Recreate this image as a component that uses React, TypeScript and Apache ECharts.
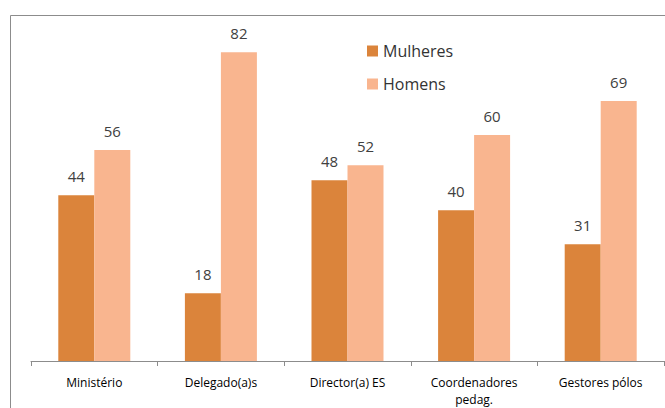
import React, { useEffect, useRef } from "react";
import * as echarts from "echarts";

const categories = ["Ministério", "Delegado(a)s", "Director(a) ES", "Coordenadores\npedag.", "Gestores pólos"];
const mulheres = [44, 18, 48, 40, 31];
const homens = [56, 82, 52, 60, 69];
const seriesNames = ["Mulheres", "Homens"];

export default function App() {
  const ref = useRef<HTMLDivElement>(null);
  useEffect(() => {
    const chart = echarts.init(ref.current!, null, { renderer: "svg" });
    const labelStyle = {
      show: true,
      position: "top" as const,
      distance: 12,
      fontSize: 15,
      color: "#404040",
      fontFamily: "Open Sans, sans-serif",
    };
    chart.setOption({
      animation: false,
      backgroundColor: "#ffffff",
      grid: { left: 31, right: 1, top: 22, bottom: 46, containLabel: false },
      legend: {
        orient: "vertical",
        left: 362,
        top: 38,
        itemWidth: 11,
        itemHeight: 11,
        itemGap: 17,
        icon: "rect",
        textStyle: { fontSize: 16, color: "#333", fontFamily: "Open Sans, sans-serif" },
        data: seriesNames,
      },
      xAxis: {
        type: "category",
        data: categories,
        axisLine: { lineStyle: { color: "#8c8c8c" } },
        axisTick: { show: true, length: 5, lineStyle: { color: "#8c8c8c" } },
        axisLabel: {
          color: "#000",
          fontSize: 12,
          fontWeight: 500,
          fontFamily: "Open Sans, sans-serif",
          margin: 13,
          lineHeight: 17,
          interval: 0,
        },
      },
      yAxis: { type: "value", min: 0, max: 90, show: false, splitLine: { show: false } },
      series: [
        {
          name: seriesNames[0],
          type: "bar",
          data: mulheres,
          barWidth: 36,
          barGap: "0%",
          itemStyle: { color: "#DB843B" },
          label: labelStyle,
        },
        {
          name: seriesNames[1],
          type: "bar",
          data: homens,
          barWidth: 36,
          barGap: "0%",
          itemStyle: { color: "#F9B58F" },
          label: labelStyle,
        },
      ],
      graphic: [
        {
          type: "polyline",
          shape: { points: [[10.5, 408], [10.5, 15.5], [665, 15.5]] },
          style: { stroke: "#8c8c8c", fill: "none", lineWidth: 1 },
          silent: true,
        },
      ],
    });
    return () => chart.dispose();
  }, []);
  return (
    <div
      ref={ref}
      style={{ position: "fixed", left: 0, top: 0, width: 665, height: 408 }}
    />
  );
}
